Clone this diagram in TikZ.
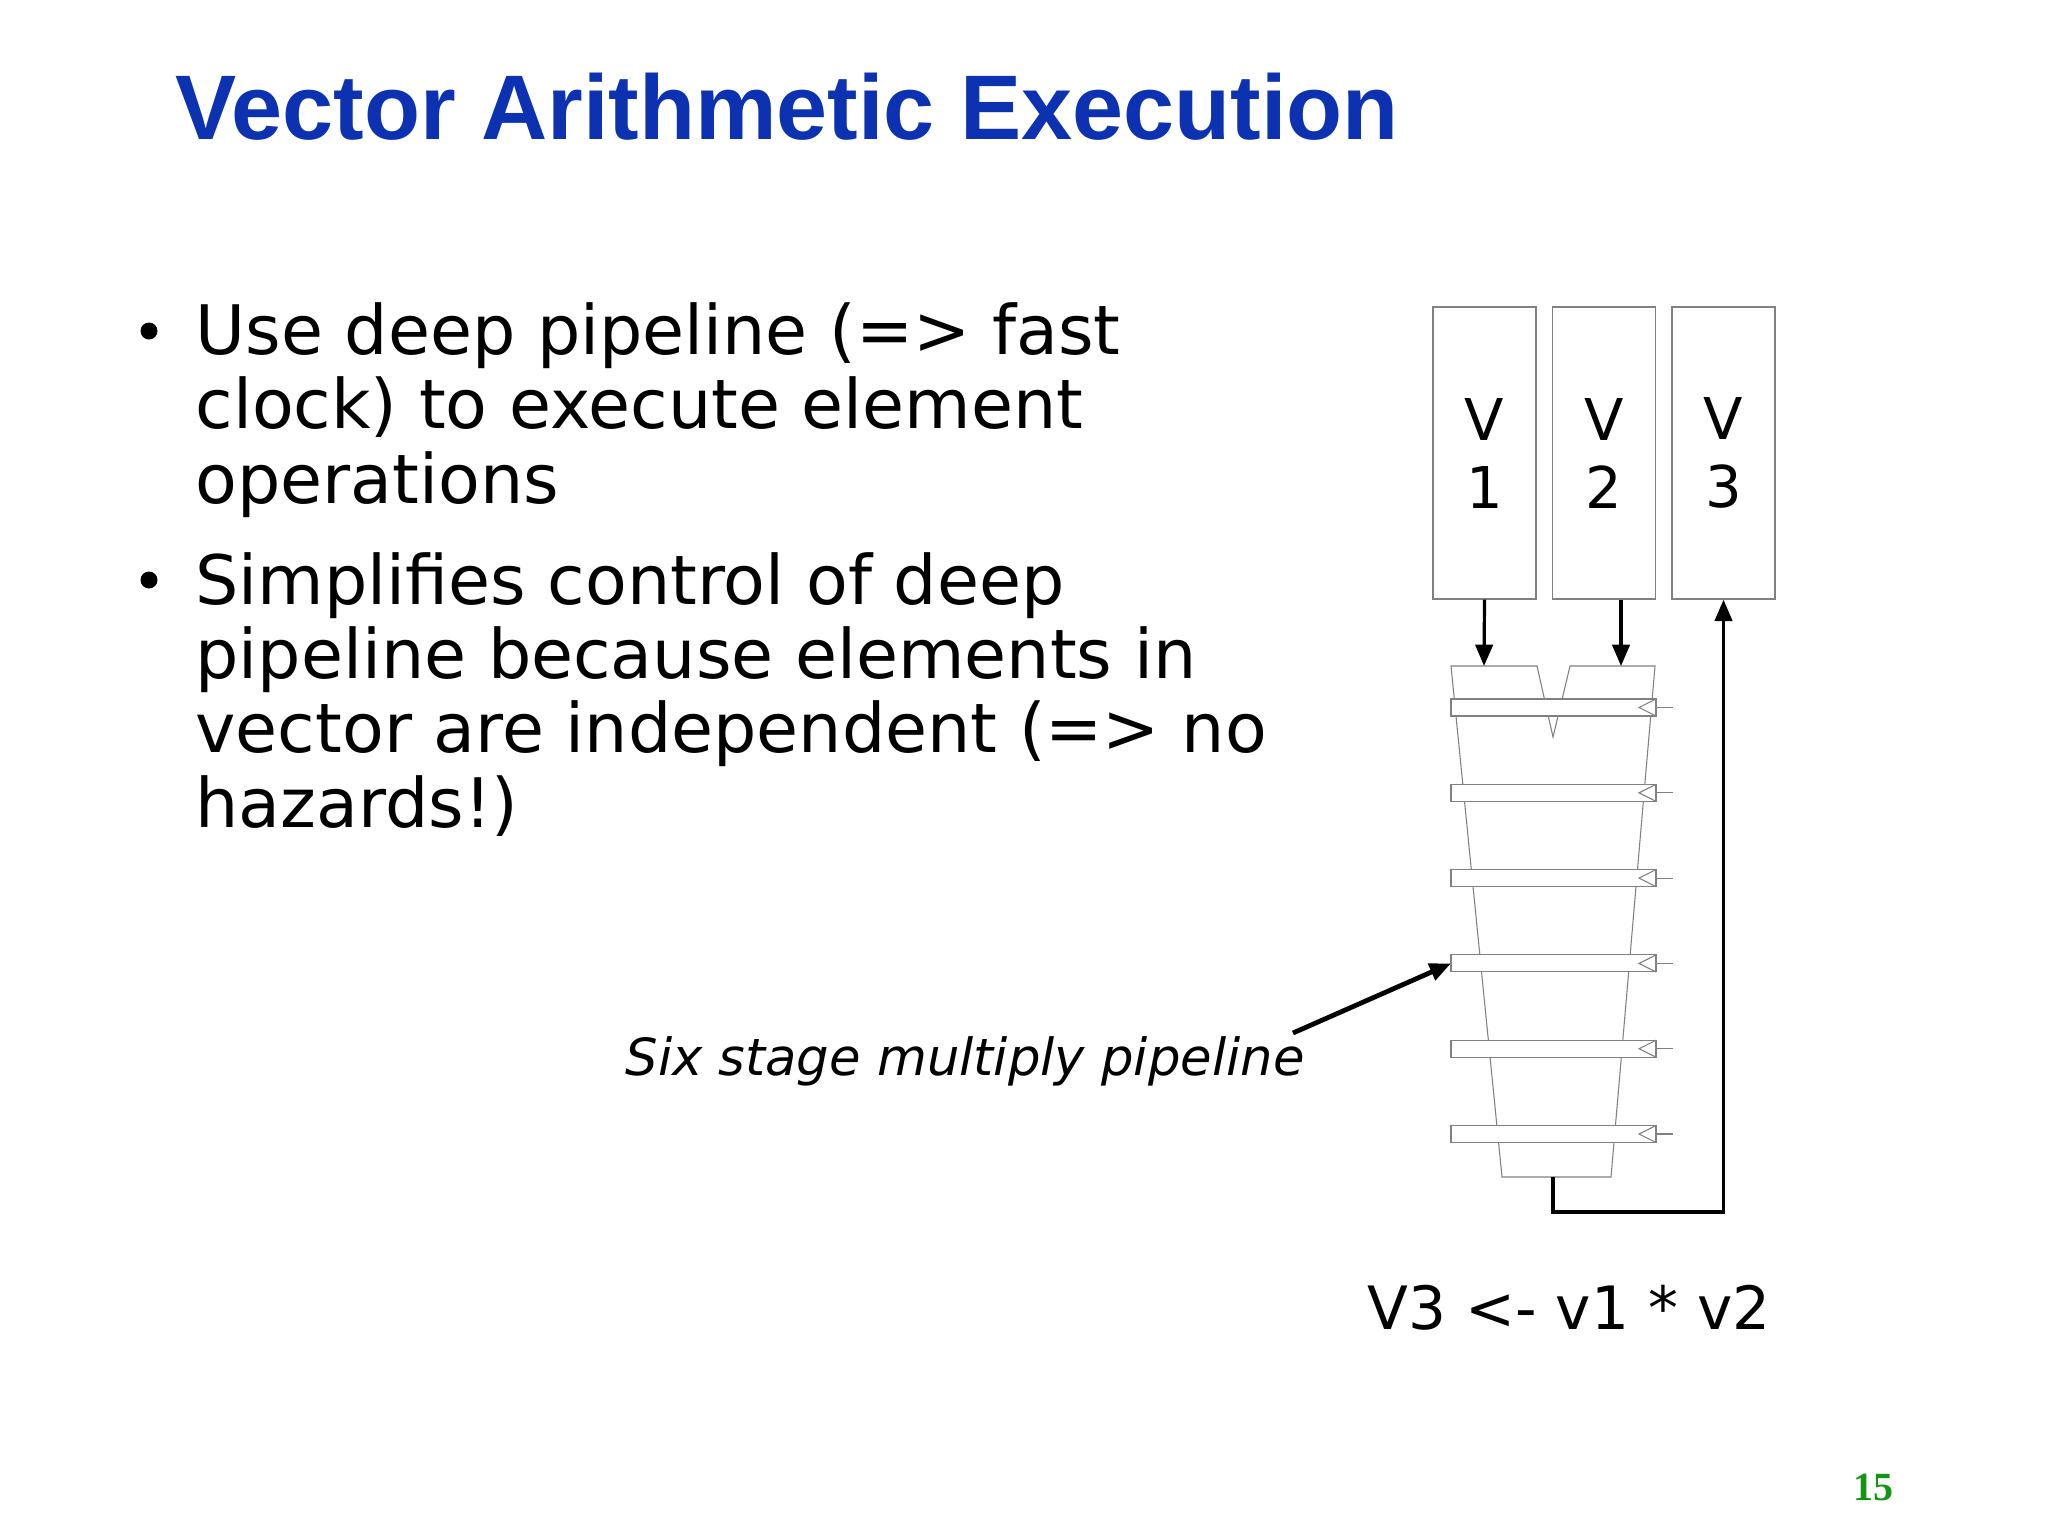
\documentclass[tikz,border=0pt]{standalone}
\usepackage{fontspec}
\setmainfont{DejaVu Sans}
\newfontfamily\titlefont{Liberation Sans}
\newfontfamily\pagefont{Liberation Serif}
\usetikzlibrary{arrows.meta}
\definecolor{titleblue}{RGB}{12,50,178}
\definecolor{pagegreen}{RGB}{20,150,20}

\begin{document}
\begin{tikzpicture}[x=0.375pt,y=-0.375pt,
  reg/.style={draw=gray,line width=0.5pt,minimum width=38.6pt,minimum height=109.5pt,
    align=center,font=\fontsize{21.6}{25.5}\selectfont,inner sep=0pt},
  latch/.style={draw=gray,fill=white,line width=0.4pt},
  wire/.style={line width=1.2pt,-{Triangle[length=8pt,width=6.5pt]}},
  bullettext/.style={anchor=base west,align=left,inner sep=0pt,
    font=\fontsize{25.6}{27.8}\selectfont}]
\useasboundingbox (0,0) rectangle (2048,1536);
% title
\node[anchor=base west,inner sep=0pt,text=titleblue,font=\titlefont\bfseries\fontsize{34.4}{38}\selectfont]
  (title) at (175,139) {Vector Arithmetic Execution};
% bullets (anchored at the last line)
\node[bullettext] (b1) at (195,503) {Use deep pipeline (=> fast\\clock) to execute element\\operations};
\node[bullettext] (b2) at (195,827) {Simplifies control of deep\\pipeline because elements in\\vector are independent (=> no\\hazards!)};
\fill (149,331) circle[radius=8.5];
\fill (149,580) circle[radius=8.5];
% vector registers
\node[reg] (V1) at (1484.5,453) {V\\1};
\node[reg] (V2) at (1604,453) {V\\2};
\node[reg] (V3) at (1723.5,453) {V\\3};
% pipeline outline
\draw[gray,line width=0.4pt] (1537,666) -- (1451,666) -- (1502,1177) -- (1611,1177) -- (1655,666) -- (1570,666) -- (1553,737) -- cycle;
\foreach \i in {1,...,6}{
  \pgfmathsetmacro\ly{699+85.3*(\i-1)}
  \draw[latch] (1451,\ly) rectangle (1656,\ly+17);
  \coordinate (L\i) at (1451,\ly+8.5);
  \draw[gray,line width=0.4pt] (1656,\ly) -- (1639,\ly+8.5) -- (1656,\ly+17);
  \draw[gray,line width=0.4pt] (1656,\ly+8.5) -- (1673,\ly+8.5);
}
\coordinate (in1) at (1484,666);
\coordinate (in2) at (1621,666);
\coordinate (out) at (1553,1177);
\draw[wire] (V1.south) -- (in1);
\draw[wire] (V2.south -| in2) -- (in2);
\draw[wire] (out) -- (1553,1212) -- (1723.5,1212) -- (V3.south);
% caption
\node[anchor=base east,inner sep=0pt,font=\itshape\fontsize{19.2}{23}\selectfont] (cap) at (1305,1075) {Six stage multiply pipeline};
\coordinate (capend) at (1293,1033);
\draw[line width=1.8pt,-{Triangle[length=8pt,width=6.5pt]}] (capend) -- (L4);
\node[anchor=base west,inner sep=0pt,font=\fontsize{22.4}{26}\selectfont] (eq) at (1367,1329) {V3 <- v1 * v2};
\node[anchor=base east,inner sep=0pt,text=pagegreen,font=\pagefont\bfseries\fontsize{15}{18}\selectfont] (pg) at (1894,1500) {15};
\end{tikzpicture}
\end{document}
